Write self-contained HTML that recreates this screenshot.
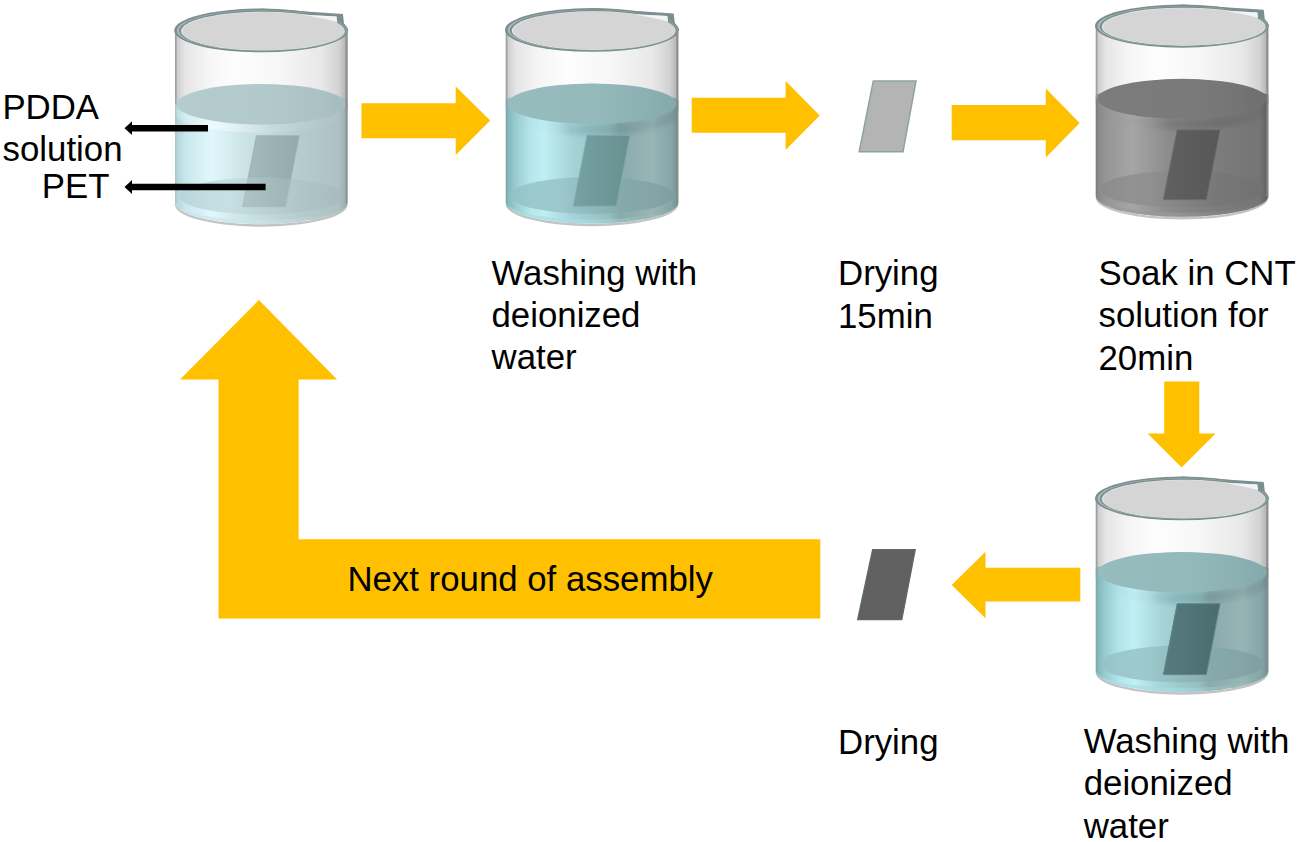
<!DOCTYPE html>
<html><head><meta charset="utf-8">
<style>
html,body{margin:0;padding:0;background:#fff;overflow:hidden;width:1300px;height:842px;}
svg{display:block;}
text{font-family:"Liberation Sans",sans-serif;font-size:34.8px;fill:#000;}
</style></head><body>
<svg width="1300" height="842" viewBox="0 0 1300 842">
<defs><linearGradient id="glass" x1="0" y1="0" x2="1" y2="0"><stop offset="0" stop-color="#a8a8a8"/><stop offset="0.015" stop-color="#cfcfcf"/><stop offset="0.06" stop-color="#e6e6e6"/><stop offset="0.2" stop-color="#f6f6f6"/><stop offset="0.35" stop-color="#fdfdfd"/><stop offset="0.6" stop-color="#f7f7f7"/><stop offset="0.85" stop-color="#e8e8e8"/><stop offset="0.95" stop-color="#d2d2d2"/><stop offset="0.985" stop-color="#b8b8b8"/><stop offset="1" stop-color="#8e8e8e"/></linearGradient><linearGradient id="shade" x1="0" y1="0" x2="1" y2="0"><stop offset="0" stop-color="#000"/><stop offset="1" stop-color="#000"/></linearGradient><linearGradient id="undershade" gradientUnits="userSpaceOnUse" x1="0" y1="100" x2="0" y2="130"><stop offset="0" stop-color="#002a2c" stop-opacity="0.2"/><stop offset="1" stop-color="#002a2c" stop-opacity="0"/></linearGradient><clipPath id="bodyclip"><rect x="0" y="80" width="172.5" height="120"/></clipPath><filter id="blur2" x="-10%" y="-50%" width="120%" height="200%"><feGaussianBlur stdDeviation="2.2"/></filter><linearGradient id="hshade" x1="0" y1="0" x2="1" y2="0"><stop offset="0" stop-color="#002a2c" stop-opacity="0"/><stop offset="0.3" stop-color="#002a2c" stop-opacity="0.02"/><stop offset="0.45" stop-color="#002a2c" stop-opacity="0.13"/><stop offset="0.7" stop-color="#002a2c" stop-opacity="0.12"/><stop offset="1" stop-color="#002a2c" stop-opacity="0.06"/></linearGradient><linearGradient id="hshadeg" x1="0" y1="0" x2="1" y2="0"><stop offset="0" stop-color="#000" stop-opacity="0"/><stop offset="0.3" stop-color="#000" stop-opacity="0.02"/><stop offset="0.45" stop-color="#000" stop-opacity="0.12"/><stop offset="0.7" stop-color="#000" stop-opacity="0.1"/><stop offset="1" stop-color="#000" stop-opacity="0.04"/></linearGradient><linearGradient id="undershadep" gradientUnits="userSpaceOnUse" x1="0" y1="100" x2="0" y2="128"><stop offset="0" stop-color="#002a2c" stop-opacity="0.0"/><stop offset="1" stop-color="#002a2c" stop-opacity="0"/></linearGradient><linearGradient id="lightband" x1="0" y1="0" x2="1" y2="0"><stop offset="0" stop-color="#fff" stop-opacity="0.15"/><stop offset="0.25" stop-color="#fff" stop-opacity="0.45"/><stop offset="0.55" stop-color="#fff" stop-opacity="0.1"/><stop offset="1" stop-color="#fff" stop-opacity="0"/></linearGradient><linearGradient id="undershadeg" gradientUnits="userSpaceOnUse" x1="0" y1="100" x2="0" y2="130"><stop offset="0" stop-color="#000" stop-opacity="0.15"/><stop offset="1" stop-color="#000" stop-opacity="0"/></linearGradient><linearGradient id="front_pdda" x1="0" y1="0" x2="1" y2="0"><stop offset="0" stop-color="#b2d2d7"/><stop offset="0.06" stop-color="#c8e7ed"/><stop offset="0.21" stop-color="#e0f8fb"/><stop offset="0.42" stop-color="#cbe2e5"/><stop offset="0.7" stop-color="#b8cdcf"/><stop offset="0.95" stop-color="#adc1c3"/><stop offset="1" stop-color="#97abad"/></linearGradient><linearGradient id="bot_pdda" x1="0" y1="0" x2="1" y2="0"><stop offset="0" stop-color="#b8d3d7"/><stop offset="0.3" stop-color="#c4dde0"/><stop offset="0.7" stop-color="#b0c6c8"/><stop offset="1" stop-color="#a6babd"/></linearGradient><linearGradient id="pet_pdda" x1="0" y1="0" x2="1" y2="0"><stop offset="0" stop-color="#a5bdc0"/><stop offset="1" stop-color="#93a9ab"/></linearGradient><linearGradient id="surf_pdda" x1="0" y1="0" x2="1" y2="0"><stop offset="0" stop-color="#b5cccf"/><stop offset="0.55" stop-color="#b2c9cc"/><stop offset="0.85" stop-color="#abc1c4"/><stop offset="1" stop-color="#a5bbbe"/></linearGradient><linearGradient id="band_pdda" x1="0" y1="0" x2="1" y2="0"><stop offset="0" stop-color="#c8e6ea" stop-opacity="0.75"/><stop offset="0.45" stop-color="#c8e6ea" stop-opacity="0.6"/><stop offset="0.8" stop-color="#c8e6ea" stop-opacity="0.15"/><stop offset="1" stop-color="#c8e6ea" stop-opacity="0"/></linearGradient><linearGradient id="front_water" x1="0" y1="0" x2="1" y2="0"><stop offset="0" stop-color="#7fb0b4"/><stop offset="0.05" stop-color="#96cace"/><stop offset="0.14" stop-color="#b4e6eb"/><stop offset="0.22" stop-color="#c0eff4"/><stop offset="0.38" stop-color="#a6d4d8"/><stop offset="0.6" stop-color="#95bfc2"/><stop offset="0.66" stop-color="#8aaaac"/><stop offset="0.85" stop-color="#98b5b6"/><stop offset="0.96" stop-color="#85a5a7"/><stop offset="1" stop-color="#6f9294"/></linearGradient><linearGradient id="bot_water" x1="0" y1="0" x2="1" y2="0"><stop offset="0" stop-color="#94c2c6"/><stop offset="0.3" stop-color="#98c4c7"/><stop offset="0.7" stop-color="#84a8aa"/><stop offset="1" stop-color="#7d9ea0"/></linearGradient><linearGradient id="pet_water" x1="0" y1="0" x2="1" y2="0"><stop offset="0" stop-color="#76a2a5"/><stop offset="1" stop-color="#67908f"/></linearGradient><linearGradient id="surf_water" x1="0" y1="0" x2="1" y2="0"><stop offset="0" stop-color="#96bcbe"/><stop offset="0.55" stop-color="#93b9bb"/><stop offset="0.85" stop-color="#8bb0b2"/><stop offset="1" stop-color="#84a9ab"/></linearGradient><linearGradient id="band_water" x1="0" y1="0" x2="1" y2="0"><stop offset="0" stop-color="#a8dde2" stop-opacity="0.75"/><stop offset="0.45" stop-color="#a8dde2" stop-opacity="0.6"/><stop offset="0.8" stop-color="#a8dde2" stop-opacity="0.15"/><stop offset="1" stop-color="#a8dde2" stop-opacity="0"/></linearGradient><linearGradient id="front_water2" x1="0" y1="0" x2="1" y2="0"><stop offset="0" stop-color="#7fb0b4"/><stop offset="0.05" stop-color="#96cace"/><stop offset="0.14" stop-color="#b4e6eb"/><stop offset="0.22" stop-color="#c0eff4"/><stop offset="0.38" stop-color="#a6d4d8"/><stop offset="0.6" stop-color="#95bfc2"/><stop offset="0.66" stop-color="#8aaaac"/><stop offset="0.85" stop-color="#98b5b6"/><stop offset="0.96" stop-color="#85a5a7"/><stop offset="1" stop-color="#6f9294"/></linearGradient><linearGradient id="bot_water2" x1="0" y1="0" x2="1" y2="0"><stop offset="0" stop-color="#94c2c6"/><stop offset="0.3" stop-color="#98c4c7"/><stop offset="0.7" stop-color="#84a8aa"/><stop offset="1" stop-color="#7d9ea0"/></linearGradient><linearGradient id="pet_water2" x1="0" y1="0" x2="1" y2="0"><stop offset="0" stop-color="#567b7e"/><stop offset="1" stop-color="#4a6c6f"/></linearGradient><linearGradient id="surf_water2" x1="0" y1="0" x2="1" y2="0"><stop offset="0" stop-color="#96bcbe"/><stop offset="0.55" stop-color="#93b9bb"/><stop offset="0.85" stop-color="#8bb0b2"/><stop offset="1" stop-color="#84a9ab"/></linearGradient><linearGradient id="band_water2" x1="0" y1="0" x2="1" y2="0"><stop offset="0" stop-color="#a8dde2" stop-opacity="0.75"/><stop offset="0.45" stop-color="#a8dde2" stop-opacity="0.6"/><stop offset="0.8" stop-color="#a8dde2" stop-opacity="0.15"/><stop offset="1" stop-color="#a8dde2" stop-opacity="0"/></linearGradient><linearGradient id="front_cnt" x1="0" y1="0" x2="1" y2="0"><stop offset="0" stop-color="#858585"/><stop offset="0.06" stop-color="#959595"/><stop offset="0.21" stop-color="#a6a6a6"/><stop offset="0.42" stop-color="#8c8c8c"/><stop offset="0.7" stop-color="#7c7c7c"/><stop offset="0.95" stop-color="#757575"/><stop offset="1" stop-color="#5e5e5e"/></linearGradient><linearGradient id="bot_cnt" x1="0" y1="0" x2="1" y2="0"><stop offset="0" stop-color="#8a8a8a"/><stop offset="0.3" stop-color="#8e8e8e"/><stop offset="0.7" stop-color="#777777"/><stop offset="1" stop-color="#707070"/></linearGradient><linearGradient id="pet_cnt" x1="0" y1="0" x2="1" y2="0"><stop offset="0" stop-color="#606060"/><stop offset="1" stop-color="#575757"/></linearGradient><linearGradient id="surf_cnt" x1="0" y1="0" x2="1" y2="0"><stop offset="0" stop-color="#7c7c7c"/><stop offset="0.55" stop-color="#7a7a7a"/><stop offset="0.85" stop-color="#747474"/><stop offset="1" stop-color="#6e6e6e"/></linearGradient><linearGradient id="band_cnt" x1="0" y1="0" x2="1" y2="0"><stop offset="0" stop-color="#9a9a9a" stop-opacity="0.75"/><stop offset="0.45" stop-color="#9a9a9a" stop-opacity="0.6"/><stop offset="0.8" stop-color="#9a9a9a" stop-opacity="0.15"/><stop offset="1" stop-color="#9a9a9a" stop-opacity="0"/></linearGradient></defs>
<g transform="translate(175,8.5) scale(1,1.0)">
<path d="M1,195.5 A85.25,21.5 0 0 0 171.5,195.5" fill="none" stroke="#b4b4b4" stroke-width="2.4" opacity="0.8"/>
<rect x="0" y="22" width="172.5" height="80" fill="url(#glass)"/>
<path d="M0,91.5 Q86.25,60 172.5,91.5 L172.5,194.5 A86.25,21 0 0 1 0,194.5 Z" fill="url(#front_pdda)"/>
<path d="M0,95.75 A86.25,20.25 0 0 0 172.5,95.75 L172.5,104 A86.25,20.25 0 0 1 0,104 Z" fill="url(#lightband)"/>
<path d="M1,194.5 A85.25,21 0 0 0 171.5,194.5 A85.25,17 0 0 1 1,194.5 Z" fill="url(#band_pdda)"/>
<ellipse cx="86.25" cy="187.5" rx="82.25" ry="18.5" fill="url(#bot_pdda)" opacity="0.8"/>
<polygon points="81.4,127.3 124.2,127.3 110.5,198.1 67.6,198.1" fill="url(#pet_pdda)" stroke="#9fb5b8" stroke-width="1"/>
<ellipse cx="86.25" cy="187.5" rx="82.25" ry="18.5" fill="url(#bot_pdda)" opacity="0.3"/>
<ellipse cx="86.25" cy="95.75" rx="84.45" ry="20.25" fill="url(#surf_pdda)"/>
<path d="M30,87 A83.25,20.25 0 0 1 142.5,87" fill="none" stroke="#ffffff" stroke-width="1" opacity="0"/>
<line x1="0.8" y1="22" x2="0.8" y2="96" stroke="#9c9c9c" stroke-width="1.6" opacity="0.8"/>
<line x1="0.8" y1="96" x2="0.8" y2="195" stroke="#a8c4c8" stroke-width="1.6" opacity="0.7"/>
<line x1="171.5" y1="24" x2="171.5" y2="195" stroke="#8a8a8a" stroke-width="2" opacity="0.8"/>
<ellipse cx="86.1" cy="21.9" rx="86.9" ry="21.9" fill="#7b8f90"/>
<polygon points="86,0 167.9,5.4 169,15.0 173.6,21.9 86,21.9" fill="#7b8f90"/>
<ellipse cx="86.7" cy="22.1" rx="84.9" ry="20.3" fill="#a9b8b9"/>
<ellipse cx="87.6" cy="22.15" rx="83.6" ry="20.25" fill="#7b8f90"/>
<polygon points="86,2.2 162,6.6 163,15.5 170.5,22.5 86,22.5" fill="#7b8f90"/>
<ellipse cx="87.9" cy="22.55" rx="81.9" ry="19.35" fill="#e4eaea"/>
<ellipse cx="88.2" cy="22.7" rx="81.0" ry="18.9" fill="#d5d5d5"/>
<polygon points="86,3.8 161.5,8.0 162.3,16 169,22.7 86,22.7" fill="#d5d5d5"/>
<polygon points="128,6.2 161.5,8.0 162.2,13.5 150,10.5" fill="#f2f5f5"/>
</g>
<g transform="translate(505.8,8) scale(1,1.0)">
<path d="M1,195.5 A85.25,21.5 0 0 0 171.5,195.5" fill="none" stroke="#b4b4b4" stroke-width="2.4" opacity="0.8"/>
<rect x="0" y="22" width="172.5" height="80" fill="url(#glass)"/>
<path d="M0,91.5 Q86.25,60 172.5,91.5 L172.5,194.5 A86.25,21 0 0 1 0,194.5 Z" fill="url(#front_water)"/>
<path d="M2,95.75 A84.25,20.25 0 0 0 170.5,95.75 L172.5,95.75 L172.5,107 A86.25,20.25 0 0 1 0,107 L0,95.75 Z" fill="url(#hshade)" filter="url(#blur2)" clip-path="url(#bodyclip)"/>
<path d="M1,194.5 A85.25,21 0 0 0 171.5,194.5 A85.25,17 0 0 1 1,194.5 Z" fill="url(#band_water)"/>
<ellipse cx="86.25" cy="187.5" rx="82.25" ry="18.5" fill="url(#bot_water)" opacity="0.85"/>
<polygon points="81.4,127.3 124.2,127.3 110.5,198.1 67.6,198.1" fill="url(#pet_water)" stroke="#80a8aa" stroke-width="1"/>
<ellipse cx="86.25" cy="95.75" rx="84.45" ry="20.25" fill="url(#surf_water)"/>
<path d="M30,87 A83.25,20.25 0 0 1 142.5,87" fill="none" stroke="#ffffff" stroke-width="1" opacity="0"/>
<line x1="0.8" y1="22" x2="0.8" y2="96" stroke="#9c9c9c" stroke-width="1.6" opacity="0.8"/>
<line x1="0.8" y1="96" x2="0.8" y2="195" stroke="#7aa9ad" stroke-width="1.6" opacity="0.7"/>
<line x1="171.5" y1="24" x2="171.5" y2="195" stroke="#8a8a8a" stroke-width="2" opacity="0.8"/>
<ellipse cx="86.1" cy="21.9" rx="86.9" ry="21.9" fill="#7b8f90"/>
<polygon points="86,0 167.9,5.4 169,15.0 173.6,21.9 86,21.9" fill="#7b8f90"/>
<ellipse cx="86.7" cy="22.1" rx="84.9" ry="20.3" fill="#a9b8b9"/>
<ellipse cx="87.6" cy="22.15" rx="83.6" ry="20.25" fill="#7b8f90"/>
<polygon points="86,2.2 162,6.6 163,15.5 170.5,22.5 86,22.5" fill="#7b8f90"/>
<ellipse cx="87.9" cy="22.55" rx="81.9" ry="19.35" fill="#e4eaea"/>
<ellipse cx="88.2" cy="22.7" rx="81.0" ry="18.9" fill="#d5d5d5"/>
<polygon points="86,3.8 161.5,8.0 162.3,16 169,22.7 86,22.7" fill="#d5d5d5"/>
<polygon points="128,6.2 161.5,8.0 162.2,13.5 150,10.5" fill="#f2f5f5"/>
</g>
<g transform="translate(1095.8,4.5) scale(1,0.985)">
<path d="M1,195.5 A85.25,21.5 0 0 0 171.5,195.5" fill="none" stroke="#b4b4b4" stroke-width="2.4" opacity="0.8"/>
<rect x="0" y="22" width="172.5" height="80" fill="url(#glass)"/>
<path d="M0,91.5 Q86.25,60 172.5,91.5 L172.5,194.5 A86.25,21 0 0 1 0,194.5 Z" fill="url(#front_cnt)"/>
<path d="M2,95.75 A84.25,20.25 0 0 0 170.5,95.75 L172.5,95.75 L172.5,107 A86.25,20.25 0 0 1 0,107 L0,95.75 Z" fill="url(#hshadeg)" filter="url(#blur2)" clip-path="url(#bodyclip)"/>
<path d="M1,194.5 A85.25,21 0 0 0 171.5,194.5 A85.25,17 0 0 1 1,194.5 Z" fill="url(#band_cnt)"/>
<ellipse cx="86.25" cy="187.5" rx="82.25" ry="18.5" fill="url(#bot_cnt)" opacity="0.8"/>
<polygon points="81.4,127.3 124.2,127.3 110.5,198.1 67.6,198.1" fill="url(#pet_cnt)" stroke="#5f7070" stroke-width="1"/>
<ellipse cx="86.25" cy="95.75" rx="84.45" ry="20.25" fill="url(#surf_cnt)"/>
<path d="M30,87 A83.25,20.25 0 0 1 142.5,87" fill="none" stroke="#ffffff" stroke-width="1" opacity="0"/>
<line x1="0.8" y1="22" x2="0.8" y2="96" stroke="#9c9c9c" stroke-width="1.6" opacity="0.8"/>
<line x1="0.8" y1="96" x2="0.8" y2="195" stroke="#7a7a7a" stroke-width="1.6" opacity="0.7"/>
<line x1="171.5" y1="24" x2="171.5" y2="195" stroke="#8a8a8a" stroke-width="2" opacity="0.8"/>
<ellipse cx="86.1" cy="21.9" rx="86.9" ry="21.9" fill="#7b8f90"/>
<polygon points="86,0 167.9,5.4 169,15.0 173.6,21.9 86,21.9" fill="#7b8f90"/>
<ellipse cx="86.7" cy="22.1" rx="84.9" ry="20.3" fill="#a9b8b9"/>
<ellipse cx="87.6" cy="22.15" rx="83.6" ry="20.25" fill="#7b8f90"/>
<polygon points="86,2.2 162,6.6 163,15.5 170.5,22.5 86,22.5" fill="#7b8f90"/>
<ellipse cx="87.9" cy="22.55" rx="81.9" ry="19.35" fill="#e4eaea"/>
<ellipse cx="88.2" cy="22.7" rx="81.0" ry="18.9" fill="#d5d5d5"/>
<polygon points="86,3.8 161.5,8.0 162.3,16 169,22.7 86,22.7" fill="#d5d5d5"/>
<polygon points="128,6.2 161.5,8.0 162.2,13.5 150,10.5" fill="#f2f5f5"/>
</g>
<g transform="translate(1095.8,476.5) scale(1,1.0)">
<path d="M1,195.5 A85.25,21.5 0 0 0 171.5,195.5" fill="none" stroke="#b4b4b4" stroke-width="2.4" opacity="0.8"/>
<rect x="0" y="22" width="172.5" height="80" fill="url(#glass)"/>
<path d="M0,91.5 Q86.25,60 172.5,91.5 L172.5,194.5 A86.25,21 0 0 1 0,194.5 Z" fill="url(#front_water2)"/>
<path d="M2,95.75 A84.25,20.25 0 0 0 170.5,95.75 L172.5,95.75 L172.5,107 A86.25,20.25 0 0 1 0,107 L0,95.75 Z" fill="url(#hshade)" filter="url(#blur2)" clip-path="url(#bodyclip)"/>
<path d="M1,194.5 A85.25,21 0 0 0 171.5,194.5 A85.25,17 0 0 1 1,194.5 Z" fill="url(#band_water2)"/>
<ellipse cx="86.25" cy="187.5" rx="82.25" ry="18.5" fill="url(#bot_water2)" opacity="0.85"/>
<polygon points="81.4,127.3 124.2,127.3 110.5,198.1 67.6,198.1" fill="url(#pet_water2)" stroke="#5f8386" stroke-width="1"/>
<ellipse cx="86.25" cy="95.75" rx="84.45" ry="20.25" fill="url(#surf_water2)"/>
<path d="M30,87 A83.25,20.25 0 0 1 142.5,87" fill="none" stroke="#ffffff" stroke-width="1" opacity="0"/>
<line x1="0.8" y1="22" x2="0.8" y2="96" stroke="#9c9c9c" stroke-width="1.6" opacity="0.8"/>
<line x1="0.8" y1="96" x2="0.8" y2="195" stroke="#7aa9ad" stroke-width="1.6" opacity="0.7"/>
<line x1="171.5" y1="24" x2="171.5" y2="195" stroke="#8a8a8a" stroke-width="2" opacity="0.8"/>
<ellipse cx="86.1" cy="21.9" rx="86.9" ry="21.9" fill="#7b8f90"/>
<polygon points="86,0 167.9,5.4 169,15.0 173.6,21.9 86,21.9" fill="#7b8f90"/>
<ellipse cx="86.7" cy="22.1" rx="84.9" ry="20.3" fill="#a9b8b9"/>
<ellipse cx="87.6" cy="22.15" rx="83.6" ry="20.25" fill="#7b8f90"/>
<polygon points="86,2.2 162,6.6 163,15.5 170.5,22.5 86,22.5" fill="#7b8f90"/>
<ellipse cx="87.9" cy="22.55" rx="81.9" ry="19.35" fill="#e4eaea"/>
<ellipse cx="88.2" cy="22.7" rx="81.0" ry="18.9" fill="#d5d5d5"/>
<polygon points="86,3.8 161.5,8.0 162.3,16 169,22.7 86,22.7" fill="#d5d5d5"/>
<polygon points="128,6.2 161.5,8.0 162.2,13.5 150,10.5" fill="#f2f5f5"/>
</g>

<polygon points="361.5,103.2 455.7,103.2 455.7,86.6 490.2,120.5 455.7,154.9 455.7,138.3 361.5,138.3" fill="#ffc000"/>
<polygon points="691.7,97.7 785.6,97.7 785.6,81.1 819.7,115.5 785.6,150 785.6,132.8 691.7,132.8" fill="#ffc000"/>
<polygon points="951.7,105.1 1045.8,105.1 1045.8,88.5 1079.7,122.9 1045.8,157.4 1045.8,140.2 951.7,140.2" fill="#ffc000"/>
<polygon points="1164.2,381.5 1199.3,381.5 1199.3,433.4 1215.6,433.4 1181.6,467.4 1147.6,433.4 1164.2,433.4" fill="#ffc000"/>
<polygon points="1080.3,567.7 985.5,567.7 985.5,551.7 951.7,584.9 985.5,618.2 985.5,601.5 1080.3,601.5" fill="#ffc000"/>
<polygon points="258.9,300 337.1,379.4 298.6,379.4 298.6,539.2 820.3,539.2 820.3,618.4 218.5,618.4 218.5,379.4 180,379.4" fill="#ffc000"/>


<polygon points="873.3,80.9 916,80.9 903,151.7 859.2,151.7" fill="#b4b4b4" stroke="#8fa2a2" stroke-width="1.5"/>
<polygon points="872.6,549.6 915.3,549.6 901.8,619.7 857.6,619.7" fill="#606060" stroke="#5b6c6e" stroke-width="1.2"/>


<line x1="131" y1="128.2" x2="208" y2="128.2" stroke="#000" stroke-width="6.4"/>
<polygon points="124.5,128.2 132,121.3 132,135.1" fill="#000"/>
<line x1="131" y1="187" x2="265.6" y2="187" stroke="#000" stroke-width="6.4"/>
<polygon points="124.5,187 132,180.1 132,193.9" fill="#000"/>

<text x="2.4" y="118.6">PDDA</text><text x="2.6" y="161">solution</text><text x="41.8" y="198.1">PET</text><text x="491.5" y="285">Washing with</text><text x="491.5" y="327">deionized</text><text x="491.5" y="369.3">water</text><text x="838" y="285">Drying</text><text x="838" y="327.5">15min</text><text x="1098.5" y="284.7">Soak in CNT</text><text x="1098.5" y="326.7">solution for</text><text x="1098.5" y="369.5">20min</text><text x="838" y="753.5">Drying</text><text x="1083.7" y="752.7">Washing with</text><text x="1083.7" y="795.2">deionized</text><text x="1083.7" y="837.7">water</text><text x="347.4" y="591.2">Next round of assembly</text>
</svg>
</body></html>
